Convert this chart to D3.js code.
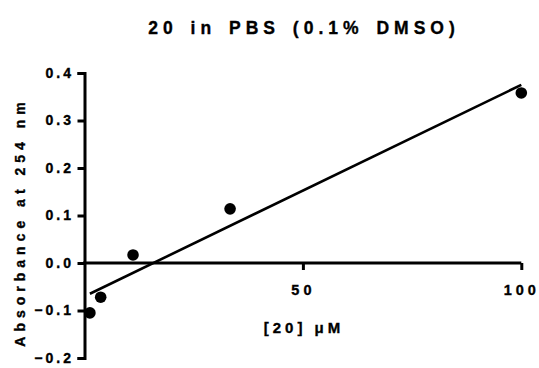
<!DOCTYPE html>
<html>
<head>
<meta charset="utf-8">
<script src="https://cdn.jsdelivr.net/npm/d3@7"></script>
<style>
  html, body { margin: 0; padding: 0; background: #fff; }
  svg { display: block; font-family: Arial, "Liberation Sans", sans-serif; font-weight: bold; }
  .lbl { stroke: #000; stroke-width: 0.35px; fill: #000; font-weight: bold; font-family: Arial, "Liberation Sans", sans-serif; }
</style>
</head>
<body>
<svg id="chart" width="539" height="368"></svg>
<script>
// ---- data ----
const concentrations = [1.235, 3.704, 11.11, 33.33, 100];      // [20] µM
const absorbance     = [-0.105, -0.072, 0.017, 0.114, 0.358];   // A254
const fitX = [1.235, 100];          // linear fit endpoints
const fitY = [-0.0647, 0.375];
const xTicks = [50, 100];
const yTicks = [-0.2, -0.1, 0.0, 0.1, 0.2, 0.3, 0.4];
const titleText = "20 in PBS (0.1% DMSO)";
const xLabel = "[20] μM";
const yLabel = "Absorbance at 254 nm";

const svg = d3.select("#chart");
const x = d3.scaleLinear().domain([0, 100]).range([84.5, 521.3]);
const y = d3.scaleLinear().domain([-0.2, 0.4]).range([358, 73]);

// y axis
const yAxis = svg.append("g")
  .attr("transform", `translate(${x(0)},0)`)
  .call(d3.axisLeft(y).tickValues(yTicks).tickFormat(d3.format(".1f"))
        .tickSize(7).tickSizeOuter(7).tickPadding(3.5));
yAxis.select(".domain").attr("stroke", "#000").attr("stroke-width", 3);
yAxis.selectAll(".tick line").attr("stroke", "#000").attr("stroke-width", 3);
yAxis.selectAll(".tick text")
  .attr("class", "lbl").attr("font-size", 14)
  .style("letter-spacing", "3px");

// x axis along y = 0
const xAxis = svg.append("g")
  .attr("transform", `translate(0,${y(0)})`)
  .call(d3.axisBottom(x).tickValues(xTicks).tickFormat(d3.format("d"))
        .tickSize(7).tickSizeOuter(0).tickPadding(15));
xAxis.select(".domain").attr("stroke", "#000").attr("stroke-width", 3)
  .attr("d", `M${x(0) - 1.5},0H${x(100)}`);
xAxis.selectAll(".tick line").attr("stroke", "#000").attr("stroke-width", 3);
xAxis.selectAll(".tick text")
  .attr("class", "lbl").attr("font-size", 14.5)
  .style("letter-spacing", "4px");

// fit line
svg.append("path")
  .datum(fitX.map((d, i) => [d, fitY[i]]))
  .attr("fill", "none").attr("stroke", "#000").attr("stroke-width", 2.6)
  .attr("d", d3.line().x(d => x(d[0])).y(d => y(d[1])));

// points
svg.append("g").selectAll("circle")
  .data(concentrations.map((c, i) => [c, absorbance[i]]))
  .join("circle")
  .attr("cx", d => x(d[0])).attr("cy", d => y(d[1]))
  .attr("r", 5.8).attr("fill", "#000");

// title
svg.append("text")
  .attr("class", "lbl")
  .attr("x", 304).attr("y", 34)
  .attr("text-anchor", "middle")
  .attr("font-size", 17.5)
  .style("letter-spacing", "5px").style("word-spacing", "3px")
  .text(titleText);

// x label
svg.append("text")
  .attr("class", "lbl")
  .attr("x", 304).attr("y", 333)
  .attr("text-anchor", "middle")
  .attr("font-size", 15)
  .style("letter-spacing", "4px")
  .text(xLabel);

// y label
svg.append("text")
  .attr("class", "lbl")
  .attr("transform", "translate(25,222) rotate(-90)")
  .attr("text-anchor", "middle")
  .attr("font-size", 14)
  .style("letter-spacing", "5px")
  .text(yLabel);
</script>
</body>
</html>
